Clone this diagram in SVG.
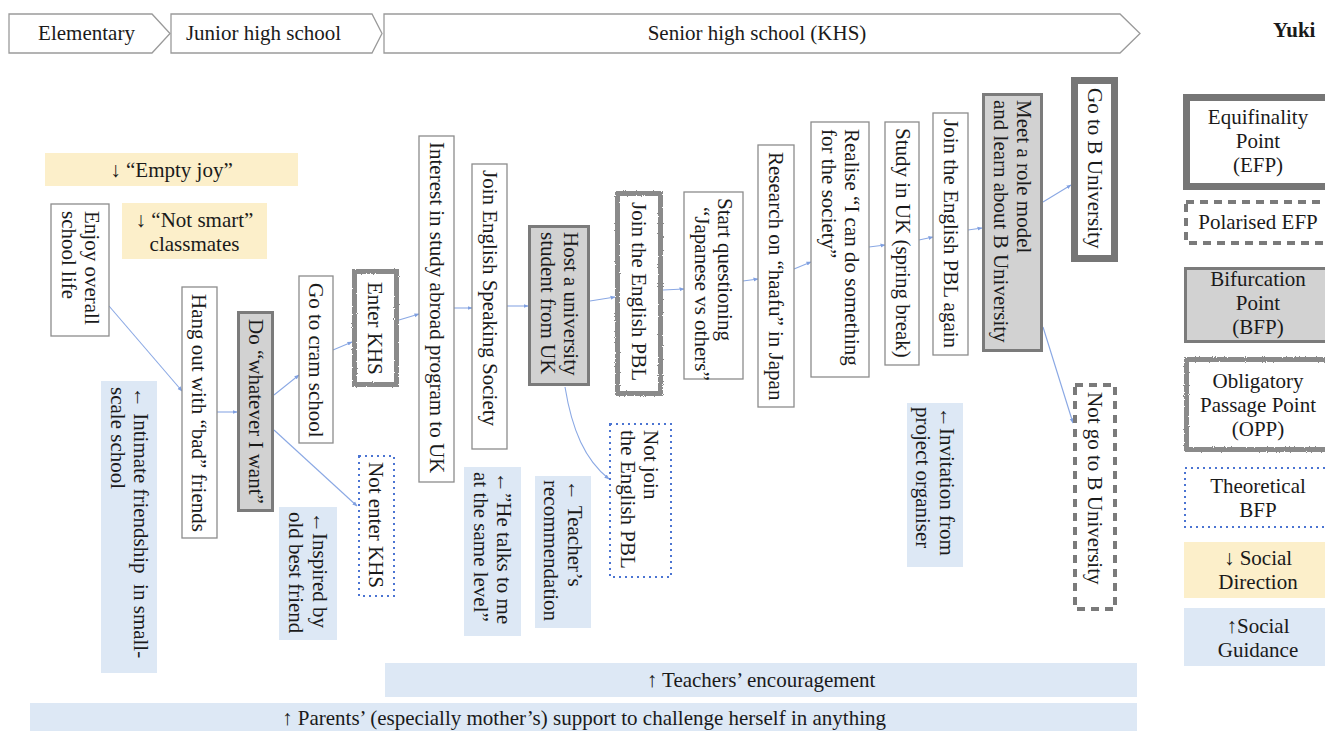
<svg xmlns="http://www.w3.org/2000/svg" width="1325" height="731" viewBox="0 0 1325 731">
<style>
.t{font-family:"Liberation Serif","Times New Roman",serif;font-size:21px;fill:#1a1a1a}
.m{text-anchor:middle}
.hd{fill:#fff;stroke:#9a9a9a;stroke-width:1.3}
.n{fill:#fff;stroke:#8c8c8c;stroke-width:1.3}
.bfp{fill:#d2d2d2;stroke:#7b7b7b;stroke-width:3}
.efp{fill:#fff;stroke:#767676;stroke-width:7}
.opp{fill:#fff;stroke:#8a8a8a;stroke-width:5;filter:url(#rough)}
.tb{fill:#fff;stroke:#4b74d2;stroke-width:2;stroke-dasharray:2 4}
.pe{fill:#fff;stroke:#7a7a7a;stroke-width:4;stroke-dasharray:8 6}
.sd{fill:#fcefca}
.sg{fill:#dde8f5}
.c{stroke:#8aa8e4;stroke-width:1.1;fill:none;marker-end:url(#a)}
</style>
<defs>
<marker id="a" viewBox="0 0 10 10" refX="9" refY="5" markerWidth="5" markerHeight="5" orient="auto" markerUnits="userSpaceOnUse"><path d="M0,1 L10,5 L0,9 z" fill="#7f9fe0"/></marker>
<filter id="rough" x="-10%" y="-10%" width="120%" height="120%"><feTurbulence type="fractalNoise" baseFrequency="0.9" numOctaves="2" seed="3" result="n"/><feDisplacementMap in="SourceGraphic" in2="n" scale="2.5"/></filter>
</defs>
<rect width="1325" height="731" fill="#fff"/>

<g id="header">
<polygon class="hd" points="9,14 152,14 170,33.5 152,53 9,53"/>
<text class="t m" x="86.5" y="40">Elementary</text>
<polygon class="hd" points="171,14 372,14 382,33.5 372,53 171,53"/>
<text class="t m" x="263.5" y="40">Junior high school</text>
<polygon class="hd" points="384,14 1120,14 1140,33.5 1120,53 384,53"/>
<text class="t m" x="757" y="40">Senior high school (KHS)</text>
<text class="t" x="1273" y="37" font-weight="bold">Yuki</text>
</g>

<g id="connectors">
<path class="c" d="M109,306 L182,391"/>
<path class="c" d="M217,412 L237,412"/>
<path class="c" d="M274,395 L299,375"/>
<path class="c" d="M333,350 L352,342"/>
<path class="c" d="M274,430 L357,506"/>
<path class="c" d="M399,320 L419,314"/>
<path class="c" d="M454,308 L472,308"/>
<path class="c" d="M507,306 L528,306"/>
<path class="c" d="M590,301 L615,297"/>
<path class="c" d="M663,290 L684,289"/>
<path class="c" d="M743,281 L758,279"/>
<path class="c" d="M794,269 L811,262"/>
<path class="c" d="M869,247 L885,245"/>
<path class="c" d="M919,240 L933,237"/>
<path class="c" d="M968,230 L982,228"/>
<path class="c" d="M1043,202 L1071,185"/>
<path class="c" d="M1043,327 L1073,423"/>
<path class="c" d="M565,387 C572,430 585,460 609,479"/>
</g>

<g id="sd-empty"><rect class="sd" x="45" y="153" width="253" height="33"/><text class="t m" x="171.5" y="177">↓ “Empty joy”</text></g>
<g id="sd-notsmart"><rect class="sd" x="122" y="203" width="145" height="56"/><text class="t m" x="194.5" y="227">↓ “Not smart”<tspan x="194.5" dy="23.5">classmates</tspan></text></g>

<g id="n-enjoy"><rect class="n" x="51" y="204" width="58" height="132"/><text class="t" transform="translate(85,211) rotate(90)">Enjoy overall<tspan x="0" dy="23.5">school life</tspan></text></g>
<g id="n-hang"><rect class="n" x="182" y="287" width="35" height="251"/><text class="t" transform="translate(192,294) rotate(90)">Hang out with “bad” friends</text></g>
<g id="n-do"><rect class="bfp" x="238.5" y="312.5" width="34" height="198"/><text class="t" transform="translate(248.5,319) rotate(90)">Do “whatever I want”</text></g>
<g id="n-cram"><rect class="n" x="299" y="276" width="34" height="167"/><text class="t" transform="translate(309,283) rotate(90)">Go to cram school</text></g>
<g id="n-enter"><rect class="opp" x="354.5" y="271.5" width="42" height="113"/><text class="t" transform="translate(368,282) rotate(90)">Enter KHS</text></g>
<g id="n-notenter"><rect class="tb" x="359" y="456" width="35" height="140"/><text class="t" transform="translate(368.5,462) rotate(90)">Not enter KHS</text></g>
<g id="n-interest"><rect class="n" x="419" y="136" width="35" height="346"/><text class="t" transform="translate(429.5,142) rotate(90)">Interest in study abroad program to UK</text></g>
<g id="n-ess"><rect class="n" x="472" y="164" width="35" height="285"/><text class="t" transform="translate(482.5,170) rotate(90)">Join English Speaking Society</text></g>
<g id="n-host"><rect class="bfp" x="529.5" y="226.5" width="59" height="158"/><text class="t" transform="translate(564,232) rotate(90)">Host a university<tspan x="0" dy="23.5">student from UK</tspan></text></g>
<g id="n-pbl"><rect class="opp" x="617.5" y="193.5" width="43" height="200"/><text class="t" transform="translate(632,202) rotate(90)">Join the English PBL</text></g>
<g id="n-notjoin"><rect class="tb" x="610" y="424" width="61" height="153"/><text class="t" transform="translate(644,430) rotate(90)">Not join<tspan x="0" dy="23.5">the English PBL</tspan></text></g>
<g id="n-startq"><rect class="n" x="684" y="192" width="59" height="187"/><text class="t" transform="translate(718,198) rotate(90)">Start questioning<tspan x="9" dy="23.5">“Japanese vs others”</tspan></text></g>
<g id="n-research"><rect class="n" x="758" y="145" width="36" height="262"/><text class="t" transform="translate(768.5,152) rotate(90)">Research on “haafu” in Japan</text></g>
<g id="n-realise"><rect class="n" x="811" y="122" width="58" height="255"/><text class="t" transform="translate(845,129) rotate(90)">Realise “I can do something<tspan x="0" dy="23.5">for the society”</tspan></text></g>
<g id="n-studyuk"><rect class="n" x="885" y="122" width="34" height="243"/><text class="t" transform="translate(895.5,128) rotate(90)">Study in UK (spring break)</text></g>
<g id="n-pblagain"><rect class="n" x="933" y="113" width="35" height="242"/><text class="t" transform="translate(943.5,119) rotate(90)">Join the English PBL again</text></g>
<g id="n-meet"><rect class="bfp" x="983.5" y="94.5" width="58" height="256"/><text class="t" transform="translate(1017,100) rotate(90)">Meet a role model<tspan x="0" dy="23.5">and learn about B University</tspan></text></g>
<g id="n-gotob"><rect class="efp" x="1074.5" y="80.5" width="40" height="178"/><text class="t" transform="translate(1087.5,88) rotate(90)">Go to B University</text></g>
<g id="n-notgob"><rect class="pe" x="1075" y="385" width="40" height="224"/><text class="t" transform="translate(1088,392) rotate(90)">Not go to B University</text></g>

<g id="sg-intimate"><rect class="sg" x="101" y="381" width="56" height="292"/><text class="t" style="white-space:pre" transform="translate(134,387) rotate(90)">← Intimate friendship  in small-<tspan x="0" dy="23.5">scale school</tspan></text></g>
<g id="sg-inspired"><rect class="sg" x="279" y="507" width="58" height="133"/><text class="t" transform="translate(312.5,512) rotate(90)">←Inspired by<tspan x="0" dy="23.5">old best friend</tspan></text></g>
<g id="sg-talks"><rect class="sg" x="464" y="467" width="57" height="169"/><text class="t" transform="translate(497,472) rotate(90)">←”He talks to me<tspan x="0" dy="23.5">at the same level”</tspan></text></g>
<g id="sg-teacher"><rect class="sg" x="535" y="476" width="56" height="152"/><text class="t" transform="translate(567.5,480) rotate(90)">← Teacher’s<tspan x="0" dy="23.5">recommendation</tspan></text></g>
<g id="sg-invite"><rect class="sg" x="907" y="403" width="56" height="164"/><text class="t" transform="translate(939.5,407) rotate(90)">←Invitation from<tspan x="0" dy="23.5">project organiser</tspan></text></g>
<g id="sg-teachers"><rect class="sg" x="385" y="663" width="752" height="34"/><text class="t m" x="761" y="687">↑ Teachers’ encouragement</text></g>
<g id="sg-parents"><rect class="sg" x="30" y="703" width="1107" height="30"/><text class="t m" x="584" y="725">↑ Parents’ (especially mother’s) support to challenge herself in anything</text></g>

<g id="legend">
<g id="lg-efp"><rect class="efp" x="1186.5" y="97.5" width="160" height="89"/><text class="t m" x="1258" y="124">Equifinality<tspan x="1258" dy="24">Point</tspan><tspan x="1258" dy="24">(EFP)</tspan></text></g>
<g id="lg-pefp"><rect class="pe" x="1186" y="202" width="160" height="41"/><text class="t m" x="1258" y="229">Polarised EFP</text></g>
<g id="lg-bfp"><rect class="bfp" x="1185.5" y="268.5" width="160" height="73"/><text class="t m" x="1258" y="286">Bifurcation<tspan x="1258" dy="24">Point</tspan><tspan x="1258" dy="24">(BFP)</tspan></text></g>
<g id="lg-opp"><rect class="opp" x="1186.5" y="359.5" width="160" height="90"/><text class="t m" x="1258" y="388">Obligatory<tspan x="1258" dy="24">Passage Point</tspan><tspan x="1258" dy="24">(OPP)</tspan></text></g>
<g id="lg-tbfp"><rect class="tb" x="1185" y="468" width="160" height="59"/><text class="t m" x="1258" y="493">Theoretical<tspan x="1258" dy="24">BFP</tspan></text></g>
<g id="lg-sd"><rect class="sd" x="1184" y="542" width="160" height="56"/><text class="t m" x="1258" y="565">↓ Social<tspan x="1258" dy="23.5">Direction</tspan></text></g>
<g id="lg-sg"><rect class="sg" x="1184" y="608" width="160" height="58"/><text class="t m" x="1258" y="633">↑Social<tspan x="1258" dy="23.5">Guidance</tspan></text></g>
</g>
</svg>
